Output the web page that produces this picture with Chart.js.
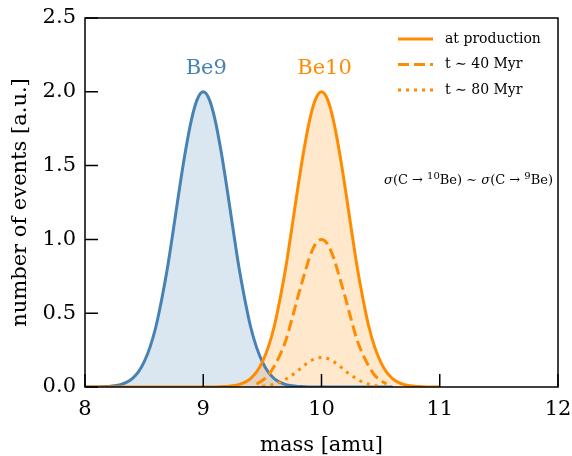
<!DOCTYPE html>
<html>
<head>
<meta charset="utf-8">
<script src="https://cdn.jsdelivr.net/npm/chart.js@4.4.1/dist/chart.umd.min.js"></script>
<style>
  html, body { margin: 0; padding: 0; background: #fff; }
  #wrap { position: relative; width: 572px; height: 456px; }
</style>
</head>
<body>
<div id="wrap"><canvas id="chart"></canvas></div>
<script>
// mass grid (amu)
const masses = [
  8.00, 8.05, 8.10, 8.15, 8.20, 8.25, 8.30, 8.35, 8.40, 8.45,
  8.50, 8.55, 8.60, 8.65, 8.70, 8.75, 8.80, 8.85, 8.90, 8.95,
  9.00, 9.05, 9.10, 9.15, 9.20, 9.25, 9.30, 9.35, 9.40, 9.45,
  9.50, 9.55, 9.60, 9.65, 9.70, 9.75, 9.80, 9.85, 9.90, 9.95,
  10.00, 10.05, 10.10, 10.15, 10.20, 10.25, 10.30, 10.35, 10.40, 10.45,
  10.50, 10.55, 10.60, 10.65, 10.70, 10.75, 10.80, 10.85, 10.90, 10.95,
  11.00
];

// Be9 curve, 8.00 .. 10.60
const be9 = [
  0, 0, 0, 0.002, 0.004, 0.008, 0.016, 0.031, 0.057, 0.10,
  0.17, 0.27, 0.41, 0.60, 0.82, 1.08, 1.35, 1.60, 1.81, 1.95,
  2.00, 1.95, 1.81, 1.60, 1.35, 1.08, 0.82, 0.60, 0.41, 0.27,
  0.17, 0.10, 0.057, 0.031, 0.016, 0.008, 0.004, 0.002, 0, 0,
  0, 0, 0, 0, 0, 0, 0, 0, 0, 0,
  0, 0, 0
];

// Be10 at production, 8.00 .. 11.00
const be10Prod = [
  0, 0, 0, 0, 0, 0, 0, 0, 0, 0,
  0, 0, 0, 0, 0, 0, 0, 0, 0, 0,
  0, 0, 0, 0.002, 0.004, 0.008, 0.016, 0.031, 0.057, 0.10,
  0.17, 0.27, 0.41, 0.60, 0.82, 1.08, 1.35, 1.60, 1.81, 1.95,
  2.00, 1.95, 1.81, 1.60, 1.35, 1.08, 0.82, 0.60, 0.41, 0.27,
  0.17, 0.10, 0.057, 0.031, 0.016, 0.008, 0.004, 0.002, 0, 0,
  0
];

// Be10 after ~40 Myr, from 9.45
const be10At40Start = 9.45;
const be10At40 = [
  0.02, 0.044, 0.08, 0.14, 0.22, 0.32, 0.46, 0.61, 0.75, 0.88,
  0.97, 1.00, 0.97, 0.88, 0.75, 0.61, 0.46, 0.32, 0.22, 0.14,
  0.08, 0.044, 0.02
];

// Be10 after ~80 Myr, from 9.50
const be10At80Start = 9.50;
const be10At80 = [
  0.005, 0.01, 0.019, 0.033, 0.054, 0.08, 0.11, 0.144, 0.173, 0.193,
  0.20, 0.193, 0.173, 0.144, 0.11, 0.08, 0.054, 0.033, 0.019, 0.01,
  0.005
];

const xTicks = [8, 9, 10, 11, 12];
const yTicks = [0, 0.5, 1.0, 1.5, 2.0, 2.5];
const seriesNames = ['at production', 't \u223C 40 Myr', 't \u223C 80 Myr'];
const peakLabels = [{ text: 'Be9', x: 9, y: 2.16 }, { text: 'Be10', x: 10, y: 2.16 }];

const BLUE = '#4682b4';
const ORANGE = '#ff8c00';
const SERIF = '"DejaVu Serif", serif';

function pts(vals, start) {
  const i0 = masses.findIndex(m => Math.abs(m - start) < 1e-9);
  return vals.map((v, i) => ({ x: masses[i0 + i], y: v }));
}

// frame, inward ticks, legend and labels
const decor = {
  id: 'decor',
  afterDraw(chart) {
    const { ctx, chartArea: a, scales: { x, y } } = chart;
    ctx.save();
    ctx.strokeStyle = '#000';
    ctx.lineWidth = 1.5;
    ctx.strokeRect(a.left, a.top, a.right - a.left, a.bottom - a.top);
    ctx.beginPath();
    xTicks.forEach(v => {
      const px = x.getPixelForValue(v);
      ctx.moveTo(px, a.bottom); ctx.lineTo(px, a.bottom - 13);
    });
    yTicks.forEach(v => {
      const py = y.getPixelForValue(v);
      ctx.moveTo(a.left, py); ctx.lineTo(a.left + 13, py);
    });
    ctx.stroke();

    // legend
    const dashes = [[], [11, 5], [3, 5]];
    ctx.textBaseline = 'middle';
    ctx.textAlign = 'left';
    ctx.font = '14px ' + SERIF;
    seriesNames.forEach((name, i) => {
      const ly = 39 + i * 25.5;
      ctx.beginPath();
      ctx.strokeStyle = ORANGE;
      ctx.lineWidth = 3;
      ctx.setLineDash(dashes[i]);
      ctx.moveTo(398, ly); ctx.lineTo(433, ly);
      ctx.stroke();
      ctx.setLineDash([]);
      ctx.fillStyle = '#000';
      ctx.fillText(name, 445, ly);
    });

    // peak labels
    ctx.font = '21px ' + SERIF;
    ctx.textAlign = 'center';
    peakLabels.forEach((p, i) => {
      ctx.fillStyle = i === 0 ? BLUE : ORANGE;
      ctx.fillText(p.text, x.getPixelForValue(p.x) + 3, y.getPixelForValue(p.y));
    });

    // cross-section note
    const parts = [
      { t: '\u03C3', f: 'italic 13px ' + SERIF, dy: 0 },
      { t: '(C \u2192 ', f: '13px ' + SERIF, dy: 0 },
      { t: '10', f: '10px ' + SERIF, dy: -5 },
      { t: 'Be) \u223C ', f: '13px ' + SERIF, dy: 0 },
      { t: '\u03C3', f: 'italic 13px ' + SERIF, dy: 0 },
      { t: '(C \u2192 ', f: '13px ' + SERIF, dy: 0 },
      { t: '9', f: '10px ' + SERIF, dy: -5 },
      { t: 'Be)', f: '13px ' + SERIF, dy: 0 }
    ];
    ctx.textAlign = 'left';
    ctx.textBaseline = 'alphabetic';
    ctx.fillStyle = '#000';
    let total = 0;
    parts.forEach(p => { ctx.font = p.f; p.w = ctx.measureText(p.t).width; total += p.w; });
    let tx = 553 - total;
    const by = y.getPixelForValue(1.41) + 5;
    parts.forEach(p => { ctx.font = p.f; ctx.fillText(p.t, tx, by + p.dy); tx += p.w; });
    ctx.restore();
  }
};

new Chart(document.getElementById('chart'), {
  type: 'line',
  data: {
    datasets: [
      {
        data: pts(be10Prod, 8.00), borderColor: ORANGE, borderWidth: 3,
        fill: 'origin', backgroundColor: 'rgba(255,140,0,0.2)'
      },
      { data: pts(be10At40, be10At40Start), borderColor: ORANGE, borderWidth: 3, borderDash: [11, 5], fill: false },
      { data: pts(be10At80, be10At80Start), borderColor: ORANGE, borderWidth: 3, borderDash: [3, 5], fill: false },
      {
        data: pts(be9, 8.00), borderColor: BLUE, borderWidth: 3,
        fill: 'origin', backgroundColor: 'rgba(70,130,180,0.2)'
      }
    ]
  },
  options: {
    responsive: true,
    maintainAspectRatio: false,
    animation: false,
    layout: { padding: { top: 18, right: 14, left: 0, bottom: 0 } },
    elements: {
      point: { radius: 0 },
      line: { cubicInterpolationMode: 'monotone', borderCapStyle: 'butt' }
    },
    plugins: {
      legend: { display: false },
      tooltip: { enabled: false },
      filler: { drawTime: 'beforeDatasetsDraw' }
    },
    scales: {
      x: {
        type: 'linear', min: 8, max: 12,
        afterFit: s => { s.height = 69; s.paddingLeft = 0; s.paddingRight = 0; },
        afterBuildTicks: s => { s.ticks = xTicks.map(v => ({ value: v })); },
        grid: { drawOnChartArea: false, drawTicks: false },
        border: { display: false },
        ticks: { color: '#000', padding: 10, font: { family: SERIF, size: 21 }, maxRotation: 0 },
        title: {
          display: true, text: 'mass [amu]', color: '#000',
          font: { family: SERIF, size: 21, lineHeight: 1 }, padding: { top: 0, bottom: 0 }
        }
      },
      y: {
        min: 0, max: 2.5,
        afterFit: s => { s.width = 85; s.paddingTop = 0; s.paddingBottom = 0; },
        afterBuildTicks: s => { s.ticks = yTicks.map(v => ({ value: v })); },
        grid: { drawOnChartArea: false, drawTicks: false },
        border: { display: false },
        ticks: {
          color: '#000', padding: 9, font: { family: SERIF, size: 21 },
          callback: v => v.toFixed(1)
        },
        title: {
          display: true, text: 'number of events [a.u.]', color: '#000',
          font: { family: SERIF, size: 21, lineHeight: 1 }, padding: { top: 10, bottom: 0 }
        }
      }
    }
  },
  plugins: [decor]
});
</script>
</body>
</html>
